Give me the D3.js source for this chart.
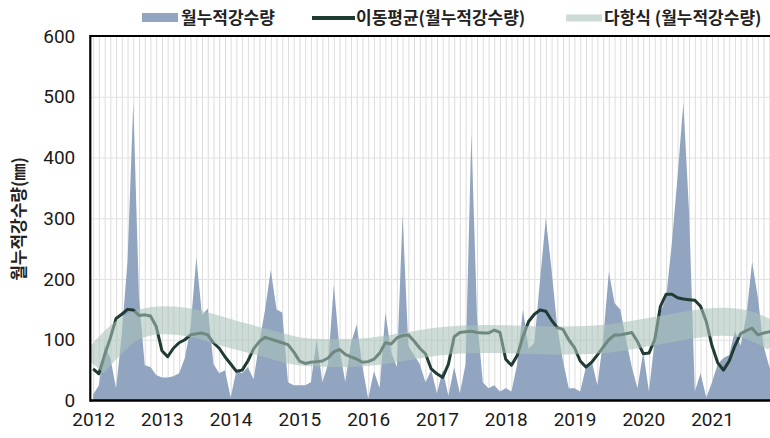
<!DOCTYPE html>
<html><head><meta charset="utf-8">
<script src="https://cdn.jsdelivr.net/npm/d3@7"></script>
<style>body{margin:0;background:#fff} svg{display:block}</style>
</head><body><svg id="c" width="770" height="438"></svg>
<script>
// ---- data ----
const years = [2012, 2013, 2014, 2015, 2016, 2017, 2018, 2019, 2020, 2021];
const monthNums = ["01","02","03","04","05","06","07","08","09","10","11","12"];
const categories = years.flatMap(y => monthNums.map(m => `${y}-${m}`));

// 월누적강수량 (mm), monthly 2012-01 .. 2021-12
const rainfall = [
  10, 25, 90, 70, 20, 110, 230, 490, 170, 58, 55, 42,
  38, 38, 40, 45, 70, 120, 236, 140, 152, 60, 45, 50,
  5, 50, 45, 55, 35, 95, 150, 215, 150, 145, 30, 25,
  25, 25, 30, 100, 30, 60, 190, 85, 30, 95, 125, 55,
  3, 48, 20, 145, 80, 55, 305, 90, 75, 60, 30, 50,
  12, 50, 8, 55, 12, 60, 440, 135, 30, 20, 25, 15,
  20, 15, 60, 150, 85, 95, 200, 300, 215, 120, 65, 20,
  20, 15, 55, 65, 25, 100, 212, 160, 150, 100, 55, 20,
  80, 15, 100, 145, 170, 260, 370, 490, 310, 15, 45, 5,
  30, 60, 70, 75, 115, 90, 140, 228, 170, 90, 55, 40
];

// 이동평균(월누적강수량)
const movingAvg = [
  52, 44, 75, 103, 135, 142, 150, 149, 140, 141, 139, 122,
  82, 72, 86, 95, 100, 108, 110, 111, 108, 95, 86, 72,
  60, 48, 50, 65, 85, 97, 104, 101, 98, 95, 92, 80,
  65, 61, 63, 64, 65, 70, 80, 84, 76, 72, 68, 63,
  64, 68, 78, 95, 93, 103, 107, 108, 98, 86, 77, 52,
  44, 38, 60, 105, 112, 113, 114, 112, 111, 111, 116, 112,
  68, 58, 74, 105, 130, 142, 149, 147, 132, 120, 117, 100,
  87, 65, 55, 63, 75, 88, 100, 108, 108, 110, 112, 97,
  77, 78, 100, 155, 175, 175, 169, 167, 166, 165, 155, 130,
  90, 62, 50, 65, 90, 110, 115, 119, 108, 111, 113, 119
];

// 다항식 (월누적강수량) — read at half-year steps
const trendMonths = ["2012-01","2012-07","2013-01","2013-07","2014-01","2014-07","2015-01","2015-07",
  "2016-01","2016-07","2017-01","2017-07","2018-01","2018-07","2019-01","2019-07",
  "2020-01","2020-07","2021-01","2021-07","2021-12"];
const trendValues = [60, 116, 132, 126, 110, 95, 81, 78, 80, 88, 97, 101, 101, 99, 99, 102, 111, 121, 129, 125, 104];

const yTicks = [0, 100, 200, 300, 400, 500, 600];
const yearTickCats = years.map(y => `${y}-01`);
const seriesNames = ["월누적강수량", "이동평균(월누적강수량)", "다항식 (월누적강수량)"];
const axisTitle = "월누적강수량(㎜)";

// ---- layout ----
const pL = 90.3, pT = 36, pB = 400.5, step = 5.73;
const pR = pL + step * categories.length;
const colArea = "#91a5c0", colMA = "#1f3b33", colTrend = "rgb(168,195,184)", trendOpacity = 0.58;

const svg = d3.select("#c");
const x = d3.scalePoint().domain(categories).range([pL, pR]).padding(0.5);
const y = d3.scaleLinear().domain([0, 600]).range([pB, pT]);

svg.append("defs").append("clipPath").attr("id", "clip")
  .append("rect").attr("x", pL).attr("y", pT).attr("width", pR - pL).attr("height", pB - pT);

// gridlines
const gx = svg.append("g").attr("transform", `translate(0,${pB})`)
  .call(d3.axisBottom(x).tickValues(categories).tickSize(-(pB - pT)).tickFormat(""));
gx.select(".domain").remove();
gx.selectAll("line").attr("stroke", "#dcdcdc").attr("stroke-width", 1);
const gy = svg.append("g").attr("transform", `translate(${pL},0)`)
  .call(d3.axisLeft(y).tickValues(yTicks.slice(1, -1)).tickSize(-(pR - pL)).tickFormat(""));
gy.select(".domain").remove();
gy.selectAll("line").attr("stroke", "#e2e2e2").attr("stroke-width", 1.2);

const plot = svg.append("g").attr("clip-path", "url(#clip)");

// area
plot.append("path").datum(rainfall)
  .attr("fill", colArea)
  .attr("d", d3.area().x((d, i) => x(categories[i])).y0(y(0)).y1(d => y(d)));

// moving average
plot.append("path").datum(movingAvg)
  .attr("fill", "none").attr("stroke", colMA).attr("stroke-width", 3).attr("stroke-linejoin", "round")
  .attr("d", d3.line().x((d, i) => x(categories[i])).y(d => y(d)));

// polynomial trend
plot.append("path").datum(trendValues)
  .attr("fill", "none").attr("stroke", colTrend).attr("stroke-opacity", trendOpacity)
  .attr("stroke-width", 28)
  .attr("d", d3.line().curve(d3.curveNatural).x((d, i) => x(trendMonths[i])).y(d => y(d)));

// frame
const frame = svg.append("g").attr("stroke", "#000");
frame.append("line").attr("x1", pL).attr("x2", pL).attr("y1", pT - 1).attr("y2", pB + 1.2).attr("stroke-width", 2.2);
frame.append("line").attr("x1", pL).attr("x2", pR).attr("y1", pT).attr("y2", pT).attr("stroke-width", 2);
frame.append("line").attr("x1", pL).attr("x2", pR).attr("y1", pB).attr("y2", pB).attr("stroke-width", 2.4);

// axes labels
const font = "Roboto, 'Liberation Sans', Arial, sans-serif";
const ay = svg.append("g").attr("transform", `translate(${pL},0)`)
  .call(d3.axisLeft(y).tickValues(yTicks).tickSize(0).tickPadding(15));
ay.select(".domain").remove();
ay.selectAll("text").attr("font-family", font).attr("font-size", 19).attr("fill", "#1a1a1a");

const ax = svg.append("g").attr("transform", `translate(0,${pB})`)
  .call(d3.axisBottom(x).tickValues(yearTickCats).tickSize(0).tickPadding(12).tickFormat(d => d.slice(0, 4)));
ax.select(".domain").remove();
ax.selectAll("text").attr("font-family", font).attr("font-size", 19).attr("fill", "#1a1a1a");

// y axis title
svg.append("text").attr("transform", `translate(25,219) rotate(-90)`)
  .attr("text-anchor", "middle").attr("font-family", "'Noto Sans CJK KR', sans-serif")
  .attr("font-weight", 700).attr("font-size", 17).attr("fill", "#222").text(axisTitle);

// legend
const lg = svg.append("g").attr("font-family", "'Noto Sans CJK KR', sans-serif").attr("font-weight", 700)
  .attr("font-size", 17).attr("fill", "#222");
lg.append("rect").attr("x", 142).attr("y", 13).attr("width", 36).attr("height", 9).attr("fill", colArea);
lg.append("text").attr("x", 181).attr("y", 24).text(seriesNames[0]);
lg.append("line").attr("x1", 312).attr("x2", 355).attr("y1", 18).attr("y2", 18).attr("stroke", colMA).attr("stroke-width", 4);
lg.append("text").attr("x", 356).attr("y", 24).text(seriesNames[1]);
lg.append("line").attr("x1", 566).attr("x2", 602).attr("y1", 18).attr("y2", 18).attr("stroke", colTrend)
  .attr("stroke-opacity", trendOpacity).attr("stroke-width", 7);
lg.append("text").attr("x", 604).attr("y", 24).text(seriesNames[2]);
</script></body></html>
